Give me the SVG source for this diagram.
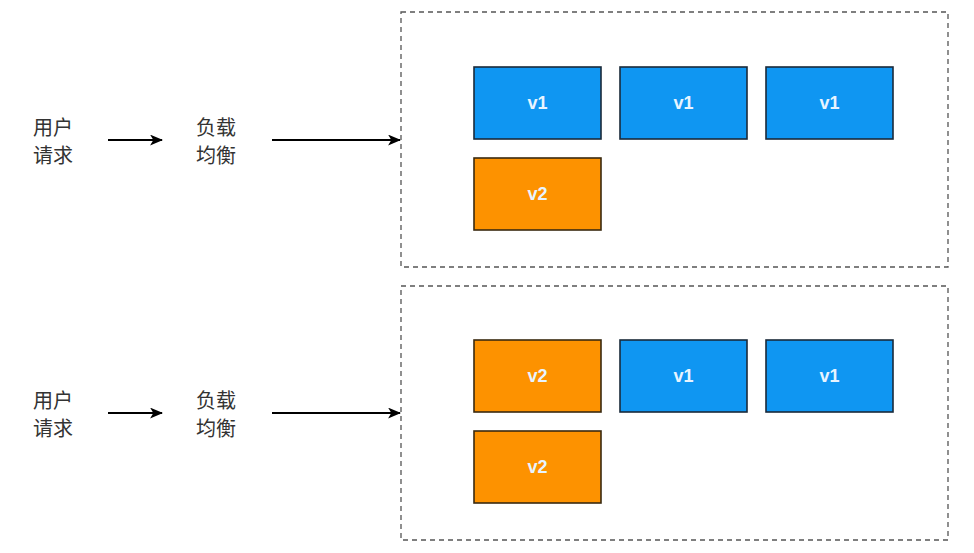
<svg xmlns="http://www.w3.org/2000/svg" width="974" height="553" viewBox="0 0 974 553">
<defs>
<style>
.lbl{font-family:"Liberation Sans","Noto Sans CJK SC",sans-serif;font-size:20px;fill:#333}
.v{font-family:"Liberation Sans",Arial,sans-serif;font-size:18px;font-weight:bold;fill:#e8f4ff;text-anchor:middle;dominant-baseline:central}
.blue{fill:#0f96f2;stroke:#1a2a3a;stroke-width:1.6}
.orange{fill:#fd9200;stroke:#3a2a10;stroke-width:1.6}
.cont{fill:none;stroke:#555;stroke-width:1.3;stroke-dasharray:5 4}
.conn{stroke:#000;stroke-width:2;fill:none;marker-end:url(#ah)}
</style>
<marker id="ah" viewBox="0 0 12 10" refX="11" refY="5" markerWidth="13" markerHeight="11" orient="auto" markerUnits="userSpaceOnUse">
<path d="M0,0 L12,5 L0,10 L3,5 z" fill="#000"/>
</marker>
</defs>
<rect width="974" height="553" fill="#fff"/>
<g id="connectors">
<line class="conn" x1="108" y1="140" x2="162" y2="140"/>
<line class="conn" x1="272" y1="140" x2="400" y2="140"/>
<line class="conn" x1="108" y1="413" x2="162" y2="413"/>
<line class="conn" x1="272" y1="413" x2="400" y2="413"/>
</g>
<g id="container1"><rect class="cont" x="401" y="12" width="547" height="255"/></g>
<g id="container2"><rect class="cont" x="401" y="286" width="547" height="254"/></g>
<g id="user1"><text class="lbl" x="33" y="135">用户</text><text class="lbl" x="33" y="163">请求</text></g>
<g id="lb1"><text class="lbl" x="196" y="135">负载</text><text class="lbl" x="196" y="163">均衡</text></g>
<g id="user2"><text class="lbl" x="33" y="408">用户</text><text class="lbl" x="33" y="436">请求</text></g>
<g id="lb2"><text class="lbl" x="196" y="408">负载</text><text class="lbl" x="196" y="436">均衡</text></g>
<g id="t-a"><rect class="blue" x="474" y="67" width="127" height="72"/><text class="v" x="537.5" y="103">v1</text></g>
<g id="t-b"><rect class="blue" x="620" y="67" width="127" height="72"/><text class="v" x="683.5" y="103">v1</text></g>
<g id="t-c"><rect class="blue" x="766" y="67" width="127" height="72"/><text class="v" x="829.5" y="103">v1</text></g>
<g id="t-d"><rect class="orange" x="474" y="158" width="127" height="72"/><text class="v" x="537.5" y="194">v2</text></g>
<g id="b-a"><rect class="orange" x="474" y="340" width="127" height="72"/><text class="v" x="537.5" y="376">v2</text></g>
<g id="b-b"><rect class="blue" x="620" y="340" width="127" height="72"/><text class="v" x="683.5" y="376">v1</text></g>
<g id="b-c"><rect class="blue" x="766" y="340" width="127" height="72"/><text class="v" x="829.5" y="376">v1</text></g>
<g id="b-d"><rect class="orange" x="474" y="431" width="127" height="72"/><text class="v" x="537.5" y="467">v2</text></g>
</svg>
